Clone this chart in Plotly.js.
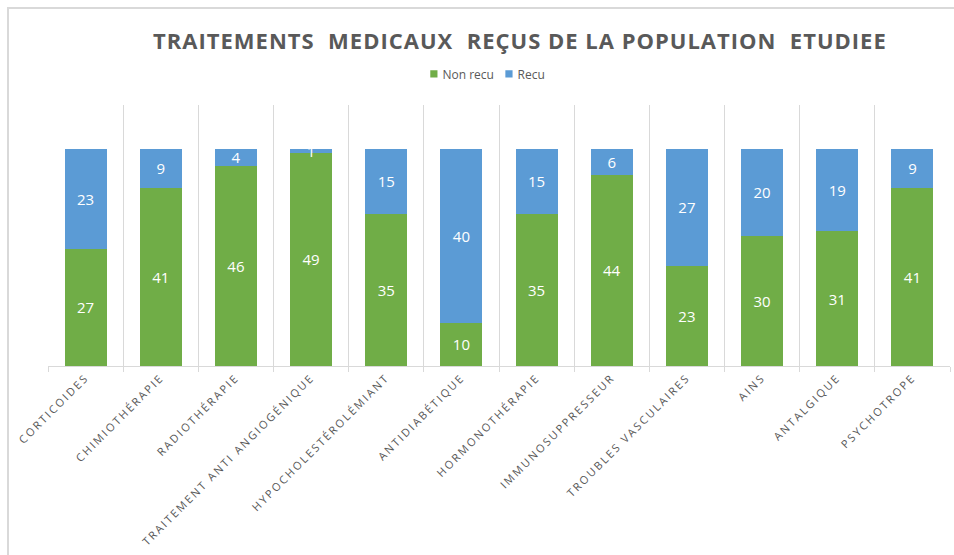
<!DOCTYPE html>
<html>
<head>
<meta charset="utf-8">
<script src="https://cdn.plot.ly/plotly-3.0.1.min.js"></script>
<style>
  html, body { margin: 0; padding: 0; background: #ffffff; }
  #wrap { position: relative; width: 954px; height: 555px; overflow: hidden; }
  #frame { position: absolute; left: 7px; top: 7px; width: 1000px; height: 1000px;
           border-left: 2px solid #d9d9d9; border-top: 2px solid #d9d9d9; pointer-events: none; z-index: 5; }
  #chart { position: absolute; left: 0; top: 0; width: 954px; height: 555px; }
  .gtitle { letter-spacing: 1px; }
  .xtick text { letter-spacing: 2.1px; }
</style>
</head>
<body>
<div id="wrap">
  <div id="chart"></div>
  <div id="frame"></div>
</div>
<script>
const categories = [
  "CORTICOIDES",
  "CHIMIOTHÉRAPIE",
  "RADIOTHÉRAPIE",
  "TRAITEMENT ANTI ANGIOGÉNIQUE",
  "HYPOCHOLESTÉROLÉMIANT",
  "ANTIDIABÉTIQUE",
  "HORMONOTHÉRAPIE",
  "IMMUNOSUPPRESSEUR",
  "TROUBLES VASCULAIRES",
  "AINS",
  "ANTALGIQUE",
  "PSYCHOTROPE"
];
const nonRecu = [27, 41, 46, 49, 35, 10, 35, 44, 23, 30, 31, 41];
const recu    = [23,  9,  4,  1, 15, 40, 15,  6, 27, 20, 19,  9];

const GREEN = "#70AD47";
const BLUE = "#5B9BD5";
const TEXT = "#595959";
const GRID = "#d9d9d9";
const FONT = "Open Sans, Noto Sans, sans-serif";

const traces = [
  {
    type: "bar", name: "Non recu", x: categories, y: nonRecu,
    marker: { color: GREEN },
    text: nonRecu.map(String), textposition: "inside", insidetextanchor: "middle",
    textangle: 0, constraintext: "none",
    textfont: { color: "#ffffff", size: 15, family: FONT },
    hoverinfo: "x+y+name"
  },
  {
    type: "bar", name: "Recu", x: categories, y: recu,
    marker: { color: BLUE },
    text: recu.map(String), textposition: "inside", insidetextanchor: "middle",
    textangle: 0, constraintext: "none",
    textfont: { color: "#ffffff", size: 15, family: FONT },
    hoverinfo: "x+y+name"
  }
];

const layout = {
  width: 954, height: 555,
  margin: { l: 48, r: 4, t: 105, b: 189, pad: 0 },
  paper_bgcolor: "rgba(0,0,0,0)", plot_bgcolor: "rgba(0,0,0,0)",
  barmode: "stack", bargap: 0.44,
  uniformtext: { minsize: 15, mode: "show" },
  font: { family: FONT, color: TEXT },
  title: {
    text: "TRAITEMENTS  MEDICAUX  REÇUS DE LA POPULATION  ETUDIEE",
    font: { family: FONT, size: 22, color: TEXT, weight: "bold" },
    x: 0.545, xanchor: "center", xref: "container",
    y: 0.926, yanchor: "middle", yref: "container"
  },
  showlegend: true,
  legend: {
    orientation: "h", x: 0.49, xanchor: "center", y: 1.119, yanchor: "middle",
    font: { family: FONT, size: 12, color: TEXT }, traceorder: "normal",
    itemwidth: 30, bgcolor: "rgba(0,0,0,0)"
  },
  xaxis: {
    type: "category", tickson: "boundaries",
    showgrid: true, gridcolor: GRID, gridwidth: 1,
    showline: true, linecolor: GRID, linewidth: 1,
    ticks: "outside", ticklen: 5, tickcolor: GRID,
    tickangle: -45, tickfont: { family: FONT, size: 11, color: TEXT },
    fixedrange: true
  },
  yaxis: {
    range: [0, 60], showgrid: false, zeroline: false, showline: false,
    showticklabels: false, ticks: "", fixedrange: true
  }
};

function tightenLegend(gd) {
  try {
    const groups = Array.from(gd.querySelectorAll(".legend .traces"));
    if (groups.length < 2) return;
    const parseT = (g) => {
      const m = /translate\(\s*([-\d.]+)[ ,]+([-\d.]+)\s*\)/.exec(g.getAttribute("transform") || "");
      return m ? [parseFloat(m[1]), parseFloat(m[2])] : [0, 0];
    };
    const first = parseT(groups[0]);
    const last = groups[groups.length - 1];
    const lastT = parseT(last);
    const oldRight = lastT[0] + last.querySelector(".legendtext").getBBox().x + last.querySelector(".legendtext").getBBox().width;
    const oldTotal = oldRight - first[0];
    const sq = 0.6, cxSym = 4, textX = 12.6, gap = 11;
    const widths = [];
    groups.forEach((g) => {
      const pts = g.querySelector(".legendpoints");
      const txt = g.querySelector(".legendtext");
      if (pts) {
        const bb = pts.getBBox();
        const cx = bb.x + bb.width / 2, cy = bb.y + bb.height / 2;
        pts.setAttribute("transform", "translate(" + cxSym + ",0) scale(" + sq + ") translate(" + (-cx) + "," + (-cy) + ")");
      }
      if (txt) txt.setAttribute("x", textX);
      widths.push(textX + (txt ? txt.getBBox().width : 0));
    });
    const newTotal = widths.reduce((a, b) => a + b, 0) + gap * (groups.length - 1);
    let x = first[0] + (oldTotal - newTotal) / 2;
    groups.forEach((g, i) => {
      const t = parseT(g);
      g.setAttribute("transform", "translate(" + x + "," + t[1] + ")");
      x += widths[i] + gap;
    });
    const bg = gd.querySelector(".legend .bg");
    if (bg) bg.style.display = "none";
  } catch (e) { /* keep default legend */ }
}

const gd = document.getElementById("chart");
Plotly.newPlot(gd, traces, layout, { displayModeBar: false, staticPlot: true }).then(() => tightenLegend(gd));
</script>
</body>
</html>
